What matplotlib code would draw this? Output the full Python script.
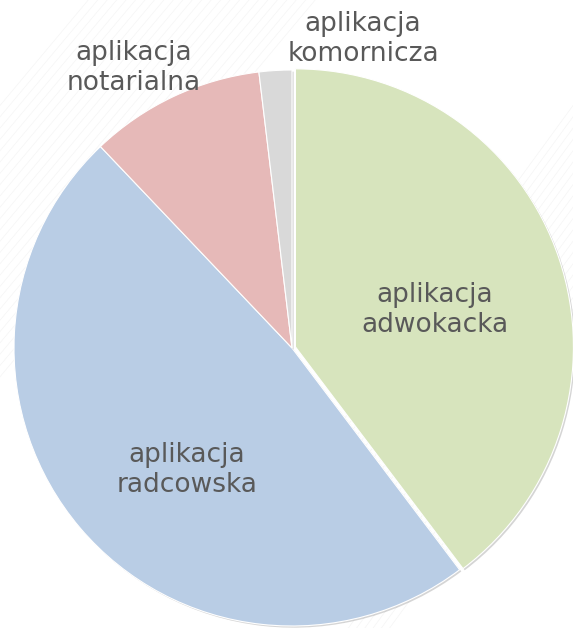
import matplotlib
matplotlib.use("Agg")
import matplotlib.pyplot as plt
import matplotlib.patheffects as pe
import numpy as np

categories = ["aplikacja\nadwokacka", "aplikacja\nradcowska", "aplikacja\nnotarialna", "aplikacja\nkomornicza"]
values = [39.7, 48.2, 10.2, 1.9]
colors = ["#D7E4BD", "#B9CDE5", "#E6B9B8", "#D9D9D9"]
explode = [0.013, 0, 0, 0]

W, H = 573, 628
fig = plt.figure(figsize=(W / 100, H / 100), dpi=100)
fig.patch.set_facecolor("white")

# faint decorative diagonal streaks in background
bg = fig.add_axes([0, 0, 1, 1])
bg.set_xlim(0, 1); bg.set_ylim(0, 1); bg.axis("off")
for k in range(25):
    off = k * 0.018
    bg.plot([0.0, 0.55], [0.40 + off, 1.0 + off], color="#ebebeb", lw=0.5, alpha=0.5)
    bg.plot([0.60, 1.0], [-0.1 + off, 0.40 + off], color="#ebebeb", lw=0.5, alpha=0.5)

cx, cy, R = 292, 348, 278
ax = fig.add_axes([0, 0, 1, 1])
ax.axis("off")

wedges, _ = ax.pie(values, colors=colors, startangle=90, counterclock=False,
                   explode=explode, radius=1.0,
                   wedgeprops=dict(edgecolor="white", linewidth=0.8))
for w in wedges:
    w.set_path_effects([pe.SimplePatchShadow(offset=(1.2, -1.2), shadow_rgbFace="#888888", alpha=0.35),
                        pe.Normal()])

ax.set_aspect("equal")
ax.set_xlim(-cx / R, (W - cx) / R)
ax.set_ylim(-(H - cy) / R, cy / R)

def px(x, y):
    return (x - cx) / R, (cy - y) / R

label_pos = [(435, 310), (187, 470), (134, 68), (363, 39)]
for lab, (x, y) in zip(categories, label_pos):
    tx, ty = px(x, y)
    ax.text(tx, ty, lab, ha="center", va="center", fontsize=19, color="#595959",
            family="DejaVu Sans", linespacing=1.2)

fig.savefig("out.png", dpi=100)
